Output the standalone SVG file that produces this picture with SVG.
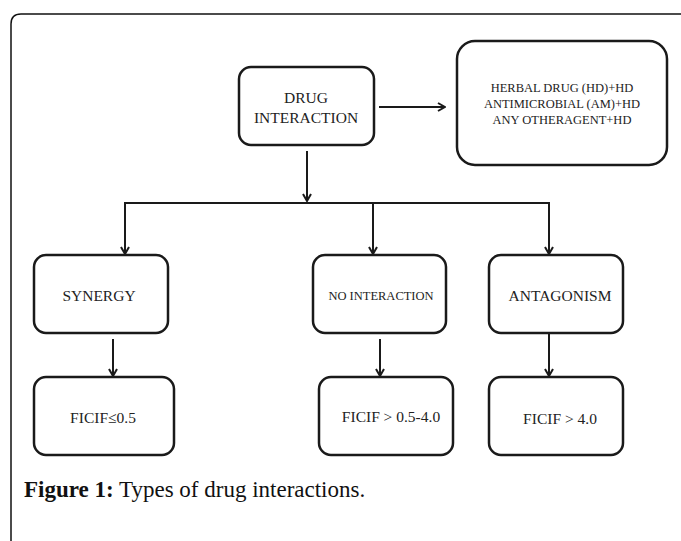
<svg xmlns="http://www.w3.org/2000/svg" width="681" height="541" viewBox="0 0 681 541">
<style>
.box{fill:#fff;stroke:#1a1a1a;stroke-width:2.5}
.t{font-family:"Liberation Serif","Times New Roman",serif;fill:#222;text-anchor:middle}
.l{fill:none;stroke:#1a1a1a;stroke-width:2}
.cap{font-family:"Liberation Serif","Times New Roman",serif;fill:#111;font-size:23px}
</style>
<defs>
<marker id="ah" viewBox="0 0 10 10" refX="9" refY="5" markerWidth="10" markerHeight="10" markerUnits="userSpaceOnUse" orient="auto">
<path d="M2,1 L9,5 L2,9" fill="none" stroke="#1a1a1a" stroke-width="2"/>
</marker>
</defs>
<rect width="681" height="541" fill="#fff"/>
<path d="M11,541 L11,24 Q11,14 21,14 L681,14" fill="none" stroke="#111" stroke-width="1.5"/>
<g id="connectors">
<line class="l" x1="379" y1="107" x2="445" y2="107" marker-end="url(#ah)"/>
<line class="l" x1="307" y1="151" x2="307" y2="201" marker-end="url(#ah)"/>
<line class="l" x1="124" y1="203" x2="550" y2="203"/>
<line class="l" x1="125" y1="203" x2="125" y2="254" marker-end="url(#ah)"/>
<line class="l" x1="373" y1="203" x2="373" y2="254" marker-end="url(#ah)"/>
<line class="l" x1="549" y1="203" x2="549" y2="254" marker-end="url(#ah)"/>
<line class="l" x1="113" y1="339" x2="113" y2="376" marker-end="url(#ah)"/>
<line class="l" x1="380" y1="339" x2="380" y2="376" marker-end="url(#ah)"/>
<line class="l" x1="549" y1="333" x2="549" y2="376" marker-end="url(#ah)"/>
</g>
<g id="drug-interaction">
<rect class="box" x="239" y="67" width="135" height="78" rx="12"/>
<text class="t" x="306" y="102.5" font-size="15.5">DRUG</text>
<text class="t" x="306" y="122.5" font-size="15.5">INTERACTION</text>
</g>
<g id="combinations">
<rect class="box" x="457" y="41" width="210" height="124" rx="18"/>
<text class="t" x="562" y="92" font-size="12.5">HERBAL DRUG (HD)+HD</text>
<text class="t" x="562" y="108" font-size="12.5">ANTIMICROBIAL (AM)+HD</text>
<text class="t" x="562" y="123.5" font-size="12.5">ANY OTHERAGENT+HD</text>
</g>
<g id="synergy">
<rect class="box" x="34" y="255" width="134" height="78" rx="12"/>
<text class="t" x="99" y="300.5" font-size="15.5">SYNERGY</text>
</g>
<g id="no-interaction">
<rect class="box" x="313" y="255" width="133" height="78" rx="12"/>
<text class="t" x="381" y="300" font-size="12.5">NO INTERACTION</text>
</g>
<g id="antagonism">
<rect class="box" x="489" y="255" width="134" height="78" rx="12"/>
<text class="t" x="560" y="300.5" font-size="15.5">ANTAGONISM</text>
</g>
<g id="ficif-synergy">
<rect class="box" x="34" y="377" width="140" height="78" rx="12"/>
<text class="t" x="103" y="422.5" font-size="15.5">FICIF≤0.5</text>
</g>
<g id="ficif-no-interaction">
<rect class="box" x="319" y="377" width="134" height="78" rx="12"/>
<text class="t" x="391" y="422" font-size="15.5">FICIF &gt; 0.5-4.0</text>
</g>
<g id="ficif-antagonism">
<rect class="box" x="489" y="377" width="134" height="78" rx="12"/>
<text class="t" x="560" y="424" font-size="15.5">FICIF &gt; 4.0</text>
</g>
<text class="cap" x="24" y="497"><tspan font-weight="bold">Figure 1:</tspan> Types of drug interactions.</text>
</svg>
